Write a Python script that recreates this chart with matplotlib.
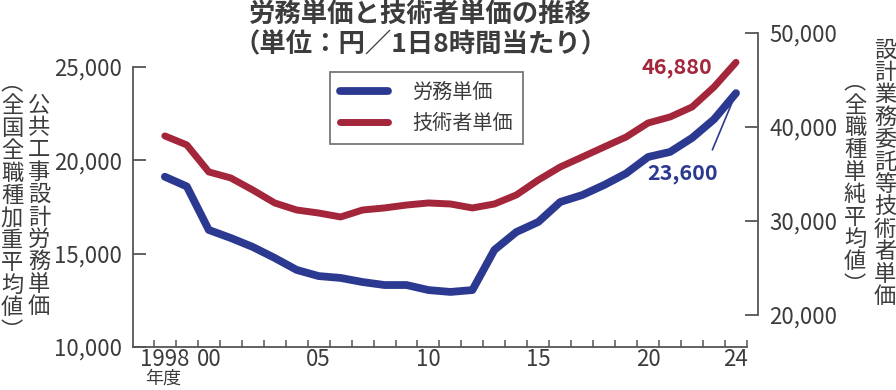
import matplotlib
matplotlib.use('Agg')
import matplotlib.pyplot as plt
from matplotlib.ticker import FixedLocator, FuncFormatter

plt.rcParams['font.family'] = ['Noto Sans CJK JP', 'DejaVu Sans']

# データ
years = list(range(1998, 2025))
roumu = [19121, 18600, 16270, 15840, 15360, 14770, 14130, 13800, 13700, 13480,
         13320, 13320, 13050, 12950, 13050, 15200, 16160, 16700, 17770, 18140,
         18680, 19300, 20180, 20450, 21200, 22200, 23600]
gijutsu = [39050, 38090, 35220, 34580, 33300, 31920, 31170, 30850, 30430, 31170,
           31390, 31700, 31920, 31810, 31390, 31810, 32770, 34360, 35750, 36810,
           37880, 38940, 40430, 41070, 42130, 44260, 46880]
tick_years = [1998, 2000, 2005, 2010, 2015, 2020, 2024]
tick_labels = ['1998', '00', '05', '10', '15', '20', '24']

W, H = 896, 390
blue = '#2b3990'
red = '#a3263b'
gray = '#3c3c3c'
axcol = '#555555'


def px(x, y):
    return x / W, 1 - y / H


fig = plt.figure(figsize=(W / 100, H / 100), dpi=100)

# 左軸（労務単価）
ax = fig.add_axes([133 / W, (H - 347) / H, (747 - 133) / W, (347 - 67) / H])
ax.set_xlim(1996.55, 2024.5)
ax.set_ylim(10000, 25000)
ax.patch.set_alpha(0)
for s in ['top', 'right']:
    ax.spines[s].set_visible(False)
for s in ['left', 'bottom']:
    ax.spines[s].set_color(axcol)
    ax.spines[s].set_linewidth(1.3)
ax.yaxis.set_major_locator(FixedLocator([10000, 15000, 20000, 25000]))
ax.yaxis.set_major_formatter(FuncFormatter(lambda v, p: f'{int(v):,}'))
ax.tick_params(axis='y', direction='in', length=9.5, width=1.3, color=axcol,
               labelsize=16, labelcolor=gray, pad=8)
ax.set_xticks(tick_years)
ax.set_xticklabels(tick_labels)
ax.set_xticks([y + 0.5 for y in range(1997, 2025)], minor=True)
ax.tick_params(axis='x', which='major', length=0, labelsize=16, labelcolor=gray, pad=1)
ax.tick_params(axis='x', which='minor', direction='in', length=5, width=1.1, color=axcol)

l1, = ax.plot(years, roumu, color=blue, lw=5.6, solid_joinstyle='round',
              solid_capstyle='round', label='労務単価', zorder=3)

# 右軸（技術者単価）
ax2 = fig.add_axes([133 / W, (H - 315) / H, (747 - 133) / W, (315 - 33) / H])
ax2.set_xlim(1996.55, 2024.5)
ax2.set_ylim(20000, 50000)
ax2.patch.set_alpha(0)
for s in ['top', 'left', 'bottom']:
    ax2.spines[s].set_visible(False)
ax2.spines['right'].set_position(('outward', 8))
ax2.spines['right'].set_color(axcol)
ax2.spines['right'].set_linewidth(1.3)
ax2.set_xticks([])
ax2.yaxis.tick_right()
ax2.yaxis.set_major_locator(FixedLocator([20000, 30000, 40000, 50000]))
ax2.yaxis.set_major_formatter(FuncFormatter(lambda v, p: f'{int(v):,}'))
ax2.tick_params(axis='y', direction='in', length=9.5, width=1.3, color=axcol,
                labelsize=16, labelcolor=gray, pad=8)

l2, = ax2.plot(years, gijutsu, color=red, lw=5.0, solid_joinstyle='round',
               solid_capstyle='round', label='技術者単価', zorder=3)

# 凡例
leg = fig.legend([l1, l2], ['労務単価', '技術者単価'], loc='upper left',
                 bbox_to_anchor=px(330, 72), fontsize=14.5, frameon=True,
                 fancybox=False, handlelength=2.4, handletextpad=1.2,
                 labelspacing=0.5, borderpad=0.5, borderaxespad=0)
leg.get_frame().set_edgecolor(axcol)
leg.get_frame().set_linewidth(1.3)
for t in leg.get_texts():
    t.set_color(gray)

# 数値ラベル
ax2.text(2021.3, 46300, f'{gijutsu[-1]:,}', color=red, fontsize=15.5,
         fontweight='bold', ha='center', va='center')
ax.annotate(f'{roumu[-1]:,}', xy=(years[-1], roumu[-1]), xytext=(2021.55, 19300),
            color=blue, fontsize=15.5, fontweight='bold', ha='center', va='center',
            arrowprops=dict(arrowstyle='-', color=blue, lw=1.2,
                            shrinkA=8, shrinkB=0, relpos=(0.85, 1.0)))

# タイトル
fig.text(*px(420, 15), '労務単価と技術者単価の推移', fontsize=19, fontweight='bold',
         color=gray, ha='center', va='center')
fig.text(*px(420, 45), '（単位：円／1日8時間当たり）', fontsize=19, fontweight='bold',
         color=gray, ha='center', va='center')

# 年度
fig.text(*px(163, 379), '年度', fontsize=13, color=gray, ha='center', va='center')


# 縦書きラベル
def tategaki(x, y0, text, step=22.4, size=16):
    y = y0
    for ch in text:
        if ch == '︵':
            fig.text(*px(x, y - 9), ch, fontsize=size, color=gray, ha='center', va='center')
            y += 14
        elif ch == '︶':
            y = y - step + 15
            fig.text(*px(x, y + 9), ch, fontsize=size, color=gray, ha='center', va='center')
        else:
            fig.text(*px(x, y), ch, fontsize=size, color=gray, ha='center', va='center')
            y += step


tategaki(39, 105, '公共工事設計労務単価')
tategaki(12, 92, '︵全国全職種加重平均値︶')
tategaki(885, 50, '設計業務委託等技術者単価')
tategaki(855, 91, '︵全職種単純平均値︶')

fig.savefig('out.png', dpi=100)
